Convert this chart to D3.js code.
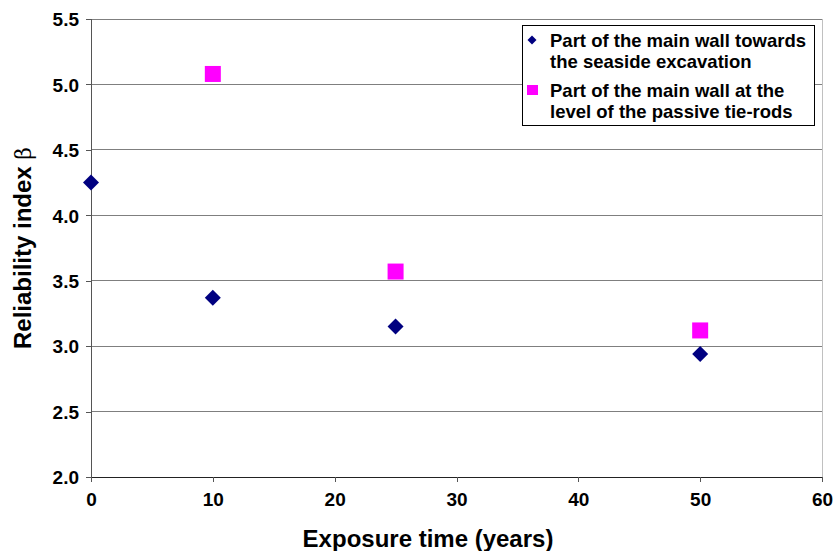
<!DOCTYPE html>
<html><head><meta charset="utf-8">
<script src="https://cdn.jsdelivr.net/npm/d3@7"></script>
<style>body{margin:0;background:#fff}svg{display:block;font-family:"Liberation Sans",Arial,sans-serif;font-weight:bold}</style>
</head><body>
<svg id="c" width="834" height="551"></svg>
<script>
const seriesNames = ["Part of the main wall towards|the seaside excavation", "Part of the main wall at the|level of the passive tie-rods"];
const s1x = [0, 10, 25, 50];
const s1y = [4.25, 3.37, 3.15, 2.94];
const s2x = [10, 25, 50];
const s2y = [5.08, 3.57, 3.12];
const xTicks = [0, 10, 20, 30, 40, 50, 60];
const yTicks = [2.0, 2.5, 3.0, 3.5, 4.0, 4.5, 5.0, 5.5];

const svg = d3.select("#c");
const x = d3.scaleLinear().domain([0, 60]).range([91, 822]);
const y = d3.scaleLinear().domain([2, 5.5]).range([477, 19]);

// gridlines
svg.append("g").selectAll("line").data(yTicks.slice(1)).join("line")
  .attr("x1", 91).attr("x2", 822).attr("y1", d => y(d)).attr("y2", d => y(d))
  .attr("stroke", "#7f7f7f").attr("stroke-width", 1).attr("shape-rendering", "crispEdges");
// right border
svg.append("line").attr("x1", 822).attr("x2", 822).attr("y1", y(5.5)).attr("y2", y(2))
  .attr("stroke", "#c0c0c0").attr("shape-rendering", "crispEdges");

// y axis
const ya = svg.append("g").attr("transform", "translate(91,0)")
  .call(d3.axisLeft(y).tickValues(yTicks).tickFormat(d3.format(".1f")).tickSize(5).tickPadding(7));
ya.select(".domain").attr("stroke", "#555").attr("shape-rendering", "crispEdges");
ya.selectAll(".tick line").attr("stroke", "#555").attr("shape-rendering", "crispEdges");
ya.selectAll("text").attr("font-size", 19).attr("font-weight", "bold").attr("fill", "#000")
  .attr("font-family", "Liberation Sans, Arial, sans-serif").attr("dy", "0.36em");

// x axis
const xa = svg.append("g").attr("transform", "translate(0,477)")
  .call(d3.axisBottom(x).tickValues(xTicks).tickSize(5).tickPadding(11));
xa.select(".domain").attr("stroke", "#222").attr("shape-rendering", "crispEdges");
xa.selectAll(".tick line").attr("stroke", "#555").attr("shape-rendering", "crispEdges");
xa.selectAll("text").attr("font-size", 19).attr("font-weight", "bold").attr("fill", "#000")
  .attr("font-family", "Liberation Sans, Arial, sans-serif");

// titles
svg.append("text").attr("x", 428).attr("y", 547).attr("text-anchor", "middle")
  .attr("font-size", 24).text("Exposure time (years)");
const yt = svg.append("text").attr("transform", "translate(31," + y(3.75) + ") rotate(-90)").attr("text-anchor", "middle")
  .attr("font-size", 24);
yt.append("tspan").text("Reliability index ");
yt.append("tspan").attr("font-weight", "normal").attr("font-family", "DejaVu Serif, serif").attr("font-size", 22).text("β");

// markers
const s1 = s1x.map((d, i) => [d, s1y[i]]);
const s2 = s2x.map((d, i) => [d, s2y[i]]);
svg.append("g").selectAll("path").data(s1).join("path")
  .attr("transform", d => `translate(${x(d[0])},${y(d[1])})`)
  .attr("d", "M0,-8L8,0L0,8L-8,0Z").attr("fill", "#000080");
svg.append("g").selectAll("rect").data(s2).join("rect")
  .attr("x", d => x(d[0]) - 8).attr("y", d => y(d[1]) - 8).attr("width", 16).attr("height", 16)
  .attr("fill", "#ff00ff");

// legend
const lg = svg.append("g");
lg.append("rect").attr("x", 522.5).attr("y", 25.5).attr("width", 292).attr("height", 100)
  .attr("fill", "#fff").attr("stroke", "#000").attr("stroke-width", 1);
lg.append("path").attr("transform", "translate(532,40)").attr("d", "M0,-4.5L4.5,0L0,4.5L-4.5,0Z").attr("fill", "#000080");
lg.append("rect").attr("x", 527).attr("y", 85).attr("width", 11).attr("height", 10).attr("fill", "#ff00ff");
const base = [[47, 68], [97, 118]];
seriesNames.forEach((n, i) => {
  n.split("|").forEach((t, j) => {
    lg.append("text").attr("x", 550).attr("y", base[i][j]).attr("font-size", 18.5).text(t);
  });
});
</script>
</body></html>
